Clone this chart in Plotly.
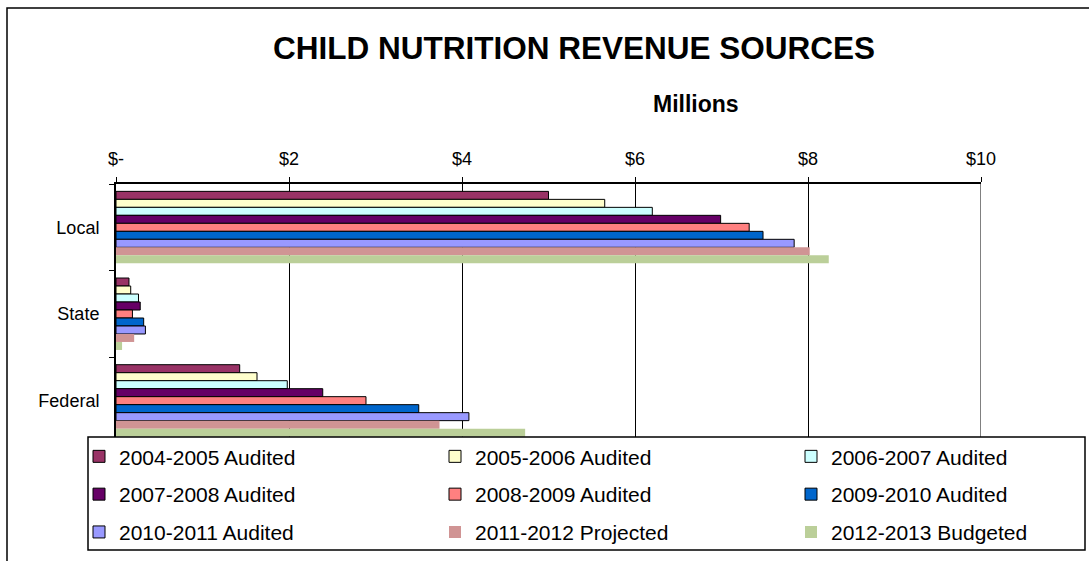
import plotly.graph_objects as go

# revenue by source, millions of dollars
categories = ["Local", "State", "Federal"]
series = ["2004-2005 Audited", "2005-2006 Audited", "2006-2007 Audited",
          "2007-2008 Audited", "2008-2009 Audited", "2009-2010 Audited",
          "2010-2011 Audited", "2011-2012 Projected", "2012-2013 Budgeted"]
local = [5.00, 5.65, 6.20, 6.99, 7.32, 7.48, 7.84, 8.02, 8.24]
state = [0.15, 0.17, 0.26, 0.28, 0.19, 0.32, 0.34, 0.21, 0.07]
federal = [1.43, 1.63, 1.98, 2.39, 2.89, 3.50, 4.08, 3.74, 4.73]
tick_vals = [0, 2, 4, 6, 8, 10]
tick_text = ["$-", "$2", "$4", "$6", "$8", "$10"]

colors = ["#993366", "#FFFFCC", "#CCFFFF", "#660066", "#FF8080",
          "#0066CC", "#9999FF", "#D09494", "#BBCF99"]
outlined = [True, True, True, True, True, True, True, False, False]

FONT = "Liberation Sans, Arial, sans-serif"
W, H = 1089, 561
L, R, T, B = 116, 108, 184, 117
PW, PH = W - L - R, H - T - B


def px(x):
    # pixel x -> paper fraction
    return (x - L) / PW


def py(y):
    # pixel y -> paper fraction
    return (H - B - y) / PH


fig = go.Figure()
for i, name in enumerate(series):
    leg = "legend" if i == 0 else f"legend{i + 1}"
    fig.add_trace(go.Bar(
        y=categories, x=[local[i], state[i], federal[i]], name=name,
        orientation="h", marker_color=colors[i],
        marker_line=dict(color="black" if outlined[i] else colors[i], width=1 if outlined[i] else 0),
        legend=leg, showlegend=True))

# one small legend per entry so the 3x3 grid can be placed exactly
row_y = [456.7, 494.5, 532.3]
legends = {}
for i in range(len(series)):
    leg = "legend" if i == 0 else f"legend{i + 1}"
    row, col = divmod(i, 3)
    legends[leg] = dict(x=px(79 + 356 * col), y=py(row_y[row]), xanchor="left", yanchor="middle",
                        orientation="h", bgcolor="rgba(0,0,0,0)", borderwidth=0,
                        font=dict(family=FONT, size=21, color="black"))

fig.update_layout(
    width=W, height=H,
    margin=dict(l=L, r=R, t=T, b=B, autoexpand=False),
    paper_bgcolor="white", plot_bgcolor="white",
    showlegend=True,
    barmode="group", bargap=0.17, bargroupgap=0,
    font=dict(family=FONT, color="black"),
    title=dict(text="<b>CHILD NUTRITION REVENUE SOURCES</b>", x=574 / W, xanchor="center",
               y=1 - 48 / H, yanchor="middle", font=dict(family=FONT, size=31.5, color="black")),
    xaxis=dict(side="top", range=[0, 10], tickvals=tick_vals, ticktext=tick_text,
               showgrid=True, gridcolor="black", gridwidth=1, zeroline=False,
               showline=True, linecolor="black", linewidth=2,
               ticks="outside", ticklen=5, tickcolor="black", tickwidth=1,
               ticklabelstandoff=5, tickfont=dict(family=FONT, size=18, color="black")),
    yaxis=dict(range=[2.5, -0.5], categoryorder="array", categoryarray=categories,
               showgrid=False, zeroline=False, showline=True, linecolor="black", linewidth=2,
               ticks="outside", tickson="boundaries", ticklen=5, tickcolor="black",
               ticklabelstandoff=11, tickfont=dict(family=FONT, size=18, color="black")),
    annotations=[dict(text="<b>Millions</b>", x=px(696), y=py(104), xref="paper", yref="paper",
                      xanchor="center", yanchor="middle", showarrow=False,
                      font=dict(family=FONT, size=23, color="black"))],
    shapes=[
        # right edge of plot area at $10
        dict(type="line", xref="x", yref="paper", x0=10, x1=10, y0=0, y1=1,
             line=dict(color="#808080", width=2), layer="above"),
        # legend frame, drawn over the bottom of the plot
        dict(type="rect", xref="paper", yref="paper", x0=px(88), x1=px(1085), y0=py(550), y1=py(437),
             fillcolor="white", line=dict(color="black", width=1.5), layer="above"),
        # chart area border
        dict(type="rect", xref="paper", yref="paper", x0=px(7), x1=px(1110), y0=py(600), y1=py(8),
             line=dict(color="black", width=1.5), layer="above"),
    ],
    **legends,
)

# page body margin would shift the whole figure by 8px
fig.write_html("out.html", config={"displayModeBar": False},
               post_script="document.body.style.margin='0px';")
